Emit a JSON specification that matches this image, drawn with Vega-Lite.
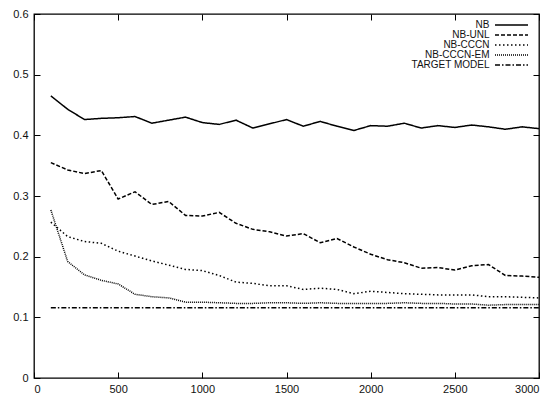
{
  "$schema": "https://vega.github.io/schema/vega-lite/v6.json",
  "width": 505,
  "height": 364,
  "autosize": {"type": "none"},
  "padding": {"left": 34, "top": 14, "right": 16, "bottom": 16},
  "background": "white",
  "config": {
    "view": {"stroke": "black", "strokeWidth": 1.3},
    "font": "Liberation Sans",
    "axis": {
      "grid": false,
      "domain": false,
      "offset": -6,
      "ticks": true,
      "tickColor": "black",
      "tickWidth": 1,
      "tickSize": 6,
      "labelFont": "Liberation Sans",
      "labelFontSize": 11,
      "labelColor": "#111",
      "title": null
    }
  },
  "datasets": {
    "d": [
      {"x": 100, "y": 0.465, "s": "NB"}, {"x": 200, "y": 0.443, "s": "NB"}, {"x": 300, "y": 0.426, "s": "NB"}, {"x": 400, "y": 0.428, "s": "NB"}, {"x": 500, "y": 0.429, "s": "NB"}, {"x": 600, "y": 0.431, "s": "NB"}, {"x": 700, "y": 0.420, "s": "NB"}, {"x": 800, "y": 0.425, "s": "NB"}, {"x": 900, "y": 0.430, "s": "NB"}, {"x": 1000, "y": 0.421, "s": "NB"}, {"x": 1100, "y": 0.418, "s": "NB"}, {"x": 1200, "y": 0.425, "s": "NB"}, {"x": 1300, "y": 0.412, "s": "NB"}, {"x": 1400, "y": 0.419, "s": "NB"}, {"x": 1500, "y": 0.426, "s": "NB"}, {"x": 1600, "y": 0.415, "s": "NB"}, {"x": 1700, "y": 0.423, "s": "NB"}, {"x": 1800, "y": 0.415, "s": "NB"}, {"x": 1900, "y": 0.408, "s": "NB"}, {"x": 2000, "y": 0.416, "s": "NB"}, {"x": 2100, "y": 0.415, "s": "NB"}, {"x": 2200, "y": 0.420, "s": "NB"}, {"x": 2300, "y": 0.412, "s": "NB"}, {"x": 2400, "y": 0.416, "s": "NB"}, {"x": 2500, "y": 0.413, "s": "NB"}, {"x": 2600, "y": 0.417, "s": "NB"}, {"x": 2700, "y": 0.414, "s": "NB"}, {"x": 2800, "y": 0.410, "s": "NB"}, {"x": 2900, "y": 0.414, "s": "NB"}, {"x": 3000, "y": 0.411, "s": "NB"},
      {"x": 100, "y": 0.355, "s": "NB-UNL"}, {"x": 200, "y": 0.343, "s": "NB-UNL"}, {"x": 300, "y": 0.337, "s": "NB-UNL"}, {"x": 400, "y": 0.342, "s": "NB-UNL"}, {"x": 500, "y": 0.295, "s": "NB-UNL"}, {"x": 600, "y": 0.307, "s": "NB-UNL"}, {"x": 700, "y": 0.286, "s": "NB-UNL"}, {"x": 800, "y": 0.291, "s": "NB-UNL"}, {"x": 900, "y": 0.268, "s": "NB-UNL"}, {"x": 1000, "y": 0.267, "s": "NB-UNL"}, {"x": 1100, "y": 0.273, "s": "NB-UNL"}, {"x": 1200, "y": 0.255, "s": "NB-UNL"}, {"x": 1300, "y": 0.245, "s": "NB-UNL"}, {"x": 1400, "y": 0.241, "s": "NB-UNL"}, {"x": 1500, "y": 0.234, "s": "NB-UNL"}, {"x": 1600, "y": 0.238, "s": "NB-UNL"}, {"x": 1700, "y": 0.223, "s": "NB-UNL"}, {"x": 1800, "y": 0.230, "s": "NB-UNL"}, {"x": 1900, "y": 0.216, "s": "NB-UNL"}, {"x": 2000, "y": 0.204, "s": "NB-UNL"}, {"x": 2100, "y": 0.195, "s": "NB-UNL"}, {"x": 2200, "y": 0.190, "s": "NB-UNL"}, {"x": 2300, "y": 0.181, "s": "NB-UNL"}, {"x": 2400, "y": 0.182, "s": "NB-UNL"}, {"x": 2500, "y": 0.178, "s": "NB-UNL"}, {"x": 2600, "y": 0.185, "s": "NB-UNL"}, {"x": 2700, "y": 0.187, "s": "NB-UNL"}, {"x": 2800, "y": 0.169, "s": "NB-UNL"}, {"x": 2900, "y": 0.168, "s": "NB-UNL"}, {"x": 3000, "y": 0.166, "s": "NB-UNL"},
      {"x": 100, "y": 0.257, "s": "NB-CCCN"}, {"x": 200, "y": 0.233, "s": "NB-CCCN"}, {"x": 300, "y": 0.225, "s": "NB-CCCN"}, {"x": 400, "y": 0.222, "s": "NB-CCCN"}, {"x": 500, "y": 0.209, "s": "NB-CCCN"}, {"x": 600, "y": 0.201, "s": "NB-CCCN"}, {"x": 700, "y": 0.193, "s": "NB-CCCN"}, {"x": 800, "y": 0.186, "s": "NB-CCCN"}, {"x": 900, "y": 0.179, "s": "NB-CCCN"}, {"x": 1000, "y": 0.177, "s": "NB-CCCN"}, {"x": 1100, "y": 0.169, "s": "NB-CCCN"}, {"x": 1200, "y": 0.158, "s": "NB-CCCN"}, {"x": 1300, "y": 0.156, "s": "NB-CCCN"}, {"x": 1400, "y": 0.152, "s": "NB-CCCN"}, {"x": 1500, "y": 0.152, "s": "NB-CCCN"}, {"x": 1600, "y": 0.146, "s": "NB-CCCN"}, {"x": 1700, "y": 0.148, "s": "NB-CCCN"}, {"x": 1800, "y": 0.146, "s": "NB-CCCN"}, {"x": 1900, "y": 0.139, "s": "NB-CCCN"}, {"x": 2000, "y": 0.143, "s": "NB-CCCN"}, {"x": 2100, "y": 0.141, "s": "NB-CCCN"}, {"x": 2200, "y": 0.139, "s": "NB-CCCN"}, {"x": 2300, "y": 0.138, "s": "NB-CCCN"}, {"x": 2400, "y": 0.137, "s": "NB-CCCN"}, {"x": 2500, "y": 0.137, "s": "NB-CCCN"}, {"x": 2600, "y": 0.137, "s": "NB-CCCN"}, {"x": 2700, "y": 0.134, "s": "NB-CCCN"}, {"x": 2800, "y": 0.134, "s": "NB-CCCN"}, {"x": 2900, "y": 0.133, "s": "NB-CCCN"}, {"x": 3000, "y": 0.132, "s": "NB-CCCN"},
      {"x": 100, "y": 0.277, "s": "NB-CCCN-EM"}, {"x": 200, "y": 0.192, "s": "NB-CCCN-EM"}, {"x": 300, "y": 0.170, "s": "NB-CCCN-EM"}, {"x": 400, "y": 0.161, "s": "NB-CCCN-EM"}, {"x": 500, "y": 0.155, "s": "NB-CCCN-EM"}, {"x": 600, "y": 0.138, "s": "NB-CCCN-EM"}, {"x": 700, "y": 0.134, "s": "NB-CCCN-EM"}, {"x": 800, "y": 0.132, "s": "NB-CCCN-EM"}, {"x": 900, "y": 0.125, "s": "NB-CCCN-EM"}, {"x": 1000, "y": 0.125, "s": "NB-CCCN-EM"}, {"x": 1100, "y": 0.124, "s": "NB-CCCN-EM"}, {"x": 1200, "y": 0.123, "s": "NB-CCCN-EM"}, {"x": 1300, "y": 0.123, "s": "NB-CCCN-EM"}, {"x": 1400, "y": 0.124, "s": "NB-CCCN-EM"}, {"x": 1500, "y": 0.124, "s": "NB-CCCN-EM"}, {"x": 1600, "y": 0.123, "s": "NB-CCCN-EM"}, {"x": 1700, "y": 0.124, "s": "NB-CCCN-EM"}, {"x": 1800, "y": 0.123, "s": "NB-CCCN-EM"}, {"x": 1900, "y": 0.123, "s": "NB-CCCN-EM"}, {"x": 2000, "y": 0.123, "s": "NB-CCCN-EM"}, {"x": 2100, "y": 0.123, "s": "NB-CCCN-EM"}, {"x": 2200, "y": 0.124, "s": "NB-CCCN-EM"}, {"x": 2300, "y": 0.123, "s": "NB-CCCN-EM"}, {"x": 2400, "y": 0.123, "s": "NB-CCCN-EM"}, {"x": 2500, "y": 0.122, "s": "NB-CCCN-EM"}, {"x": 2600, "y": 0.122, "s": "NB-CCCN-EM"}, {"x": 2700, "y": 0.120, "s": "NB-CCCN-EM"}, {"x": 2800, "y": 0.121, "s": "NB-CCCN-EM"}, {"x": 2900, "y": 0.121, "s": "NB-CCCN-EM"}, {"x": 3000, "y": 0.121, "s": "NB-CCCN-EM"},
      {"x": 100, "y": 0.116, "s": "TARGET MODEL"}, {"x": 3000, "y": 0.116, "s": "TARGET MODEL"}
    ]
  },
  "data": {"name": "d"},
  "layer": [
    {
      "mark": {"type": "line", "stroke": "black", "strokeCap": "butt"},
      "encoding": {
        "x": {"field": "x", "type": "quantitative", "scale": {"domain": [0, 3000]},
              "axis": {"orient": "bottom", "values": [0, 500, 1000, 1500, 2000, 2500, 3000], "format": "d", "labelPadding": 5}},
        "y": {"field": "y", "type": "quantitative", "scale": {"domain": [0, 0.6]},
              "axis": {"orient": "left", "values": [0, 0.1, 0.2, 0.3, 0.4, 0.5, 0.6], "format": "~g", "labelPadding": 6}},
        "strokeDash": {
          "field": "s", "type": "nominal",
          "scale": {"domain": ["NB", "NB-UNL", "NB-CCCN", "NB-CCCN-EM", "TARGET MODEL"],
                    "range": [[1, 0], [4, 2], [1.5, 2.5], [1, 1], [5, 2, 1.5, 2]]},
          "legend": {
            "title": null,
            "orient": "none",
            "legendX": 472.5,
            "legendY": 6,
            "padding": 0,
            "symbolType": "M-4.125,0H4.125",
            "symbolSize": 64,
            "symbolStrokeColor": "black",
            "symbolFillColor": "transparent",
            "symbolOpacity": 1,
            "symbolStrokeWidth": 1.4,
            "rowPadding": 0,
            "labelAlign": "right",
            "labelOffset": -27,
            "labelFont": "Liberation Sans",
            "labelFontSize": 10,
            "labelColor": "#111",
            "labelLimit": 200
          }
        },
        "strokeWidth": {
          "field": "s", "type": "nominal",
          "scale": {"domain": ["NB", "NB-UNL", "NB-CCCN", "NB-CCCN-EM", "TARGET MODEL"],
                    "range": [1.5, 1.5, 1.5, 1, 1.4]},
          "legend": null
        },
        "detail": {"field": "s"}
      }
    },
    {
      "mark": {"type": "line", "strokeOpacity": 0},
      "encoding": {
        "x": {"field": "x", "type": "quantitative", "scale": {"domain": [0, 3000]},
              "axis": {"orient": "top", "values": [0, 500, 1000, 1500, 2000, 2500, 3000], "labels": false}},
        "y": {"field": "y", "type": "quantitative", "scale": {"domain": [0, 0.6]},
              "axis": {"orient": "right", "values": [0, 0.1, 0.2, 0.3, 0.4, 0.5, 0.6], "labels": false}},
        "detail": {"field": "s"}
      }
    }
  ],
  "resolve": {"axis": {"x": "independent", "y": "independent"}}
}
